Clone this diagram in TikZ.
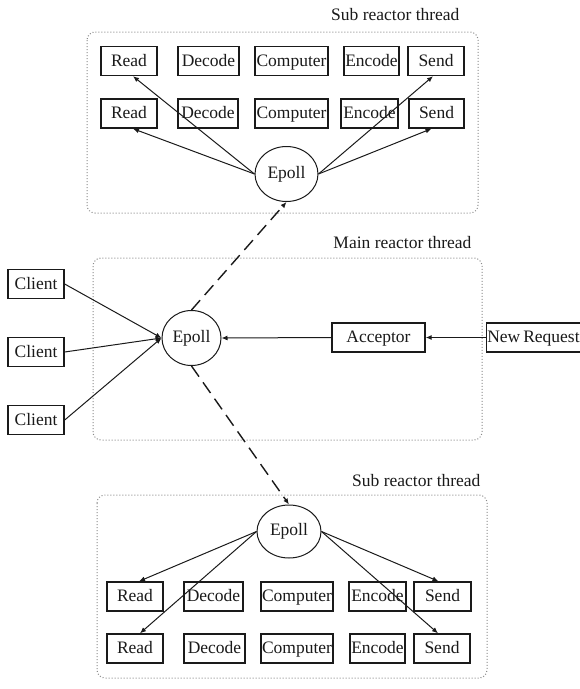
\documentclass[tikz,border=0pt]{standalone}
\usepackage{fontspec}
\setmainfont{Liberation Serif}
\usepackage{xcolor}
\usetikzlibrary{arrows.meta,positioning,shapes.geometric}
\definecolor{ink}{HTML}{1A1A1A}
\definecolor{frame}{HTML}{8A8A8A}
\tikzset{
  task/.style={draw=ink,line width=1.4pt,fill=white,inner xsep=1pt,inner ysep=0pt,text height=13.5pt,text depth=3pt,minimum height=29pt,minimum width=#1,align=center,font=\fontsize{17.5}{20}\selectfont,text=ink},
  task/.default=56pt,
  poll/.style={draw=ink,line width=1pt,ellipse,fill=white,inner sep=0pt,minimum width=63pt,minimum height=55pt,font=\fontsize{17.5}{20}\selectfont,text=ink},
  lane/.style={draw=frame,line width=1pt,dotted,rounded corners=8pt},
  lanetitle/.style={anchor=east,font=\fontsize{17.5}{20}\selectfont,text=ink},
  flow/.style={-{Latex[length=6pt,width=5pt]},line width=1pt,draw=ink},
  jump/.style={flow,line width=1.4pt,dash pattern=on 13pt off 7pt}
}
\begin{document}
\begin{tikzpicture}[x=1pt,y=-1pt]
  \useasboundingbox (0,0) rectangle (580,689);
  % dotted thread frames
  \draw[lane] (87,32) rectangle (478,213);
  \draw[lane] (93,258) rectangle (482,440);
  \draw[lane] (97,495) rectangle (487,678);
  \node[lanetitle] (ttop) at (463,15) {Sub reactor thread};
  \node[lanetitle] (tmain) at (475,243) {Main reactor thread};
  \node[lanetitle] (tbot) at (484,481) {Sub reactor thread};

  % upper sub reactor
  \node[task=56pt] (ra1) at (129,61) {Read};
  \node[task=61pt] (da1) at (208.5,61) {Decode};
  \node[task=73pt] (ca1) at (291.5,61) {Computer};
  \node[task=55pt] (ea1) at (371.5,61) {Encode};
  \node[task=56pt] (sa1) at (436,61) {Send};
  \node[task=56pt] (ra2) at (129,113.5) {Read};
  \node[task=60pt] (da2) at (208,113.5) {Decode};
  \node[task=73pt] (ca2) at (291.5,113.5) {Computer};
  \node[task=57pt] (ea2) at (369.5,113.5) {Encode};
  \node[task=55pt] (sa2) at (436.5,113.5) {Send};
  \node[poll] (epa) at (286.5,174) {Epoll};

  % main reactor
  \node[task] (cl1) at (36,284) {Client};
  \node[task] (cl2) at (36,352) {Client};
  \node[task] (cl3) at (36,420) {Client};
  \node[poll,minimum width=59pt] (epm) at (191.5,338) {Epoll};
  \node[task=93pt] (acc) at (378.5,337.5) {Acceptor};
  \node[task=91pt] (req) at (533.5,337.5) {New\,Request};

  % lower sub reactor
  \node[poll,minimum width=64pt,minimum height=53pt] (epb) at (289,531.5) {Epoll};
  \node[task=56pt] (rb1) at (135,596.5) {Read};
  \node[task=59pt] (db1) at (213.5,596.5) {Decode};
  \node[task=72pt] (cb1) at (297,596.5) {Computer};
  \node[task=57pt] (eb1) at (377.5,596.5) {Encode};
  \node[task=57pt] (sb1) at (442.5,596.5) {Send};
  \node[task=56pt] (rb2) at (135,648.5) {Read};
  \node[task=61pt] (db2) at (214.5,648.5) {Decode};
  \node[task=72pt] (cb2) at (297,648.5) {Computer};
  \node[task=55pt] (eb2) at (377.5,648.5) {Encode};
  \node[task=56pt] (sb2) at (442,648.5) {Send};

  \draw[flow] (epa.west) -- ([xshift=4pt]ra1.south);
  \draw[flow] (epa.west) -- ([xshift=4pt]ra2.south);
  \draw[flow] (epa.east) -- ([xshift=-3pt]sa1.south);
  \draw[flow] (epa.east) -- ([xshift=-5pt]sa2.south);

  \foreach \c in {cl1,cl2,cl3}
    \draw[flow] (\c.east) -- (epm.west);
  \draw[flow] (acc.west) -- (epm.east);
  \draw[flow] (req.west) -- (acc.east);
  \draw[jump] (epm.north) -- (epa.south);
  \draw[jump] (epm.south) -- (epb.north);

  \draw[flow] (epb.west) -- ([xshift=4pt]rb1.north);
  \draw[flow] (epb.west) -- ([xshift=5pt]rb2.north);
  \draw[flow] (epb.east) -- ([xshift=-4pt]sb1.north);
  \draw[flow] (epb.east) -- ([xshift=-4pt]sb2.north);
\end{tikzpicture}
\end{document}
